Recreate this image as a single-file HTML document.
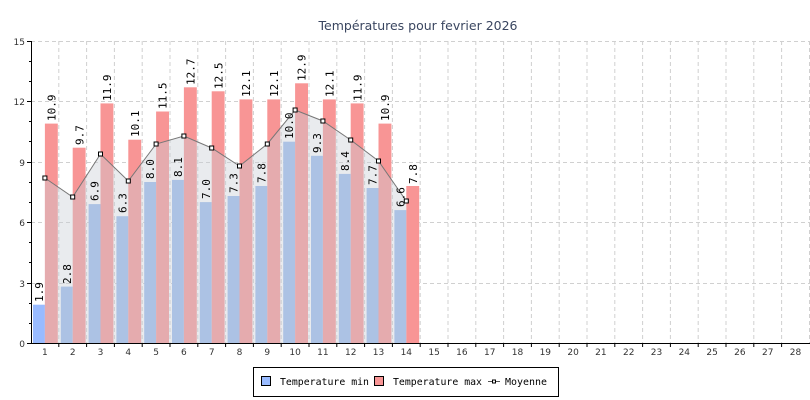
<!DOCTYPE html>
<html><head><meta charset="utf-8"><style>
body{margin:0;background:#fff;}
svg{display:block;font-family:"DejaVu Sans Mono","Liberation Mono",monospace;}
</style></head><body>
<svg width="810" height="400" viewBox="0 0 810 400" xmlns="http://www.w3.org/2000/svg">
<text x="418" y="30" font-family="DejaVu Sans, Liberation Sans, sans-serif" font-size="12.5" fill="#3a4660" text-anchor="middle">Températures pour fevrier 2026</text>
<g stroke="#d0d0d0" stroke-dasharray="4,3" stroke-width="1">
<line x1="31" y1="41.5" x2="810" y2="41.5"/>
<line x1="31" y1="101.5" x2="810" y2="101.5"/>
<line x1="31" y1="162.5" x2="810" y2="162.5"/>
<line x1="31" y1="222.5" x2="810" y2="222.5"/>
<line x1="31" y1="283.5" x2="810" y2="283.5"/>
<line x1="58.8" y1="41" x2="58.8" y2="343"/><line x1="86.6" y1="41" x2="86.6" y2="343"/><line x1="114.4" y1="41" x2="114.4" y2="343"/><line x1="142.2" y1="41" x2="142.2" y2="343"/><line x1="170" y1="41" x2="170" y2="343"/><line x1="197.8" y1="41" x2="197.8" y2="343"/><line x1="225.6" y1="41" x2="225.6" y2="343"/><line x1="253.4" y1="41" x2="253.4" y2="343"/><line x1="281.2" y1="41" x2="281.2" y2="343"/><line x1="309" y1="41" x2="309" y2="343"/><line x1="336.8" y1="41" x2="336.8" y2="343"/><line x1="364.6" y1="41" x2="364.6" y2="343"/><line x1="392.4" y1="41" x2="392.4" y2="343"/><line x1="420.2" y1="41" x2="420.2" y2="343"/><line x1="448" y1="41" x2="448" y2="343"/><line x1="475.8" y1="41" x2="475.8" y2="343"/><line x1="503.6" y1="41" x2="503.6" y2="343"/><line x1="531.4" y1="41" x2="531.4" y2="343"/><line x1="559.2" y1="41" x2="559.2" y2="343"/><line x1="587" y1="41" x2="587" y2="343"/><line x1="614.8" y1="41" x2="614.8" y2="343"/><line x1="642.6" y1="41" x2="642.6" y2="343"/><line x1="670.4" y1="41" x2="670.4" y2="343"/><line x1="698.2" y1="41" x2="698.2" y2="343"/><line x1="726" y1="41" x2="726" y2="343"/><line x1="753.8" y1="41" x2="753.8" y2="343"/><line x1="781.6" y1="41" x2="781.6" y2="343"/><line x1="809.5" y1="41" x2="809.5" y2="343"/>
</g>
<g fill="#99bbee">
<rect x="33" y="304.7" width="11.9" height="38.3" fill="#99bbff"/>
<rect x="60.8" y="286.6" width="11.9" height="56.4"/>
<rect x="88.6" y="204.1" width="11.9" height="138.9"/>
<rect x="116.4" y="216.2" width="11.9" height="126.8"/>
<rect x="144.2" y="182" width="11.9" height="161"/>
<rect x="172" y="179.9" width="11.9" height="163.1"/>
<rect x="199.8" y="202.1" width="11.9" height="140.9"/>
<rect x="227.6" y="196" width="11.9" height="147"/>
<rect x="255.4" y="186" width="11.9" height="157"/>
<rect x="283.2" y="141.7" width="11.9" height="201.3"/>
<rect x="311" y="155.8" width="11.9" height="187.2"/>
<rect x="338.8" y="173.9" width="11.9" height="169.1"/>
<rect x="366.6" y="188" width="11.9" height="155"/>
<rect x="394.4" y="210.1" width="11.9" height="132.9"/>
</g>
<g fill="#f89595">
<rect x="44.9" y="123.6" width="12.9" height="219.4"/>
<rect x="72.7" y="147.7" width="12.9" height="195.3"/>
<rect x="100.5" y="103.4" width="12.9" height="239.6"/>
<rect x="128.3" y="139.7" width="12.9" height="203.3"/>
<rect x="156.1" y="111.5" width="12.9" height="231.5"/>
<rect x="183.9" y="87.3" width="12.9" height="255.7"/>
<rect x="211.7" y="91.3" width="12.9" height="251.7"/>
<rect x="239.5" y="99.4" width="12.9" height="243.6"/>
<rect x="267.3" y="99.4" width="12.9" height="243.6"/>
<rect x="295.1" y="83.3" width="12.9" height="259.7"/>
<rect x="322.9" y="99.4" width="12.9" height="243.6"/>
<rect x="350.7" y="103.4" width="12.9" height="239.6"/>
<rect x="378.5" y="123.6" width="12.9" height="219.4"/>
<rect x="406.3" y="186" width="12.9" height="157"/>
</g>
<polygon fill="rgba(200,205,212,0.4)" points="44.9,343 44.9,178 72.7,197 100.5,154 128.3,181 156.1,144 183.9,136 211.7,148 239.5,166 267.3,144 295.1,110 322.9,121 350.7,140 378.5,161 406.3,201 406.3,343"/>
<polyline fill="none" stroke="#777" stroke-width="1" points="44.9,178 72.7,197 100.5,154 128.3,181 156.1,144 183.9,136 211.7,148 239.5,166 267.3,144 295.1,110 322.9,121 350.7,140 378.5,161 406.3,201"/>
<g fill="#fff" stroke="#000" stroke-width="1">
<rect x="42.9" y="176" width="4" height="4"/><rect x="70.7" y="195" width="4" height="4"/><rect x="98.5" y="152" width="4" height="4"/><rect x="126.3" y="179" width="4" height="4"/><rect x="154.1" y="142" width="4" height="4"/><rect x="181.9" y="134" width="4" height="4"/><rect x="209.7" y="146" width="4" height="4"/><rect x="237.5" y="164" width="4" height="4"/><rect x="265.3" y="142" width="4" height="4"/><rect x="293.1" y="108" width="4" height="4"/><rect x="320.9" y="119" width="4" height="4"/><rect x="348.7" y="138" width="4" height="4"/><rect x="376.5" y="159" width="4" height="4"/><rect x="404.3" y="199" width="4" height="4"/>
</g>
<g font-size="11" fill="#000">
<text transform="translate(43,302) rotate(-90)">1.9</text>
<text transform="translate(70.8,284) rotate(-90)">2.8</text>
<text transform="translate(98.6,201) rotate(-90)">6.9</text>
<text transform="translate(126.4,213) rotate(-90)">6.3</text>
<text transform="translate(154.2,179) rotate(-90)">8.0</text>
<text transform="translate(182,177) rotate(-90)">8.1</text>
<text transform="translate(209.8,199) rotate(-90)">7.0</text>
<text transform="translate(237.6,193) rotate(-90)">7.3</text>
<text transform="translate(265.4,183) rotate(-90)">7.8</text>
<text transform="translate(293.2,139) rotate(-90)">10.0</text>
<text transform="translate(321,153) rotate(-90)">9.3</text>
<text transform="translate(348.8,171) rotate(-90)">8.4</text>
<text transform="translate(376.6,185) rotate(-90)">7.7</text>
<text transform="translate(404.4,207) rotate(-90)">6.6</text>
<text transform="translate(55.5,121) rotate(-90)">10.9</text>
<text transform="translate(83.3,145) rotate(-90)">9.7</text>
<text transform="translate(111.1,101) rotate(-90)">11.9</text>
<text transform="translate(138.9,137) rotate(-90)">10.1</text>
<text transform="translate(166.7,109) rotate(-90)">11.5</text>
<text transform="translate(194.5,85) rotate(-90)">12.7</text>
<text transform="translate(222.3,89) rotate(-90)">12.5</text>
<text transform="translate(250.1,97) rotate(-90)">12.1</text>
<text transform="translate(277.9,97) rotate(-90)">12.1</text>
<text transform="translate(305.7,81) rotate(-90)">12.9</text>
<text transform="translate(333.5,97) rotate(-90)">12.1</text>
<text transform="translate(361.3,101) rotate(-90)">11.9</text>
<text transform="translate(389.1,121) rotate(-90)">10.9</text>
<text transform="translate(416.9,184) rotate(-90)">7.8</text>
</g>
<g stroke="#000" stroke-width="1">
<line x1="31.5" y1="41" x2="31.5" y2="343.5"/>
<line x1="31" y1="343.5" x2="810" y2="343.5"/>
<line x1="27" y1="41.5" x2="31" y2="41.5"/><line x1="27" y1="101.5" x2="31" y2="101.5"/><line x1="27" y1="162.5" x2="31" y2="162.5"/><line x1="27" y1="222.5" x2="31" y2="222.5"/><line x1="27" y1="283.5" x2="31" y2="283.5"/><line x1="27" y1="343.5" x2="31" y2="343.5"/>
<line x1="29" y1="61.5" x2="31" y2="61.5"/><line x1="29" y1="81.5" x2="31" y2="81.5"/><line x1="29" y1="121.5" x2="31" y2="121.5"/><line x1="29" y1="141.5" x2="31" y2="141.5"/><line x1="29" y1="182.5" x2="31" y2="182.5"/><line x1="29" y1="202.5" x2="31" y2="202.5"/><line x1="29" y1="242.5" x2="31" y2="242.5"/><line x1="29" y1="262.5" x2="31" y2="262.5"/><line x1="29" y1="303.5" x2="31" y2="303.5"/><line x1="29" y1="323.5" x2="31" y2="323.5"/>
</g>
<g stroke="#000" stroke-width="1">
<line x1="58.8" y1="343" x2="58.8" y2="347"/><line x1="86.6" y1="343" x2="86.6" y2="347"/><line x1="114.4" y1="343" x2="114.4" y2="347"/><line x1="142.2" y1="343" x2="142.2" y2="347"/><line x1="170" y1="343" x2="170" y2="347"/><line x1="197.8" y1="343" x2="197.8" y2="347"/><line x1="225.6" y1="343" x2="225.6" y2="347"/><line x1="253.4" y1="343" x2="253.4" y2="347"/><line x1="281.2" y1="343" x2="281.2" y2="347"/><line x1="309" y1="343" x2="309" y2="347"/><line x1="336.8" y1="343" x2="336.8" y2="347"/><line x1="364.6" y1="343" x2="364.6" y2="347"/><line x1="392.4" y1="343" x2="392.4" y2="347"/><line x1="420.2" y1="343" x2="420.2" y2="347"/><line x1="448" y1="343" x2="448" y2="347"/><line x1="475.8" y1="343" x2="475.8" y2="347"/><line x1="503.6" y1="343" x2="503.6" y2="347"/><line x1="531.4" y1="343" x2="531.4" y2="347"/><line x1="559.2" y1="343" x2="559.2" y2="347"/><line x1="587" y1="343" x2="587" y2="347"/><line x1="614.8" y1="343" x2="614.8" y2="347"/><line x1="642.6" y1="343" x2="642.6" y2="347"/><line x1="670.4" y1="343" x2="670.4" y2="347"/><line x1="698.2" y1="343" x2="698.2" y2="347"/><line x1="726" y1="343" x2="726" y2="347"/><line x1="753.8" y1="343" x2="753.8" y2="347"/><line x1="781.6" y1="343" x2="781.6" y2="347"/>
</g>
<g font-size="9" fill="#333" font-family="DejaVu Sans, Liberation Sans, sans-serif" text-anchor="end">
<text x="25" y="45">15</text><text x="25" y="105">12</text><text x="25" y="166">9</text><text x="25" y="226">6</text><text x="25" y="287">3</text><text x="25" y="347">0</text>
</g>
<g font-size="9" fill="#333" font-family="DejaVu Sans, Liberation Sans, sans-serif" text-anchor="middle">
<text x="44.9" y="355">1</text><text x="72.7" y="355">2</text><text x="100.5" y="355">3</text><text x="128.3" y="355">4</text><text x="156.1" y="355">5</text><text x="183.9" y="355">6</text><text x="211.7" y="355">7</text><text x="239.5" y="355">8</text><text x="267.3" y="355">9</text><text x="295.1" y="355">10</text><text x="322.9" y="355">11</text><text x="350.7" y="355">12</text><text x="378.5" y="355">13</text><text x="406.3" y="355">14</text><text x="434.1" y="355">15</text><text x="461.9" y="355">16</text><text x="489.7" y="355">17</text><text x="517.5" y="355">18</text><text x="545.3" y="355">19</text><text x="573.1" y="355">20</text><text x="600.9" y="355">21</text><text x="628.7" y="355">22</text><text x="656.5" y="355">23</text><text x="684.3" y="355">24</text><text x="712.1" y="355">25</text><text x="739.9" y="355">26</text><text x="767.7" y="355">27</text><text x="795.5" y="355">28</text>
</g>
<rect x="253.5" y="367.5" width="305" height="29" fill="#fff" stroke="#000"/>
<rect x="261.5" y="376.5" width="9" height="9" fill="#99bbff" stroke="#000"/>
<text x="280" y="385" font-size="10" textLength="89" lengthAdjust="spacingAndGlyphs">Temperature min</text>
<rect x="374.5" y="376.5" width="9" height="9" fill="#f89595" stroke="#000"/>
<text x="393" y="385" font-size="10" textLength="89" lengthAdjust="spacingAndGlyphs">Temperature max</text>
<line x1="488" y1="381.5" x2="500" y2="381.5" stroke="#555"/>
<rect x="492.5" y="380" width="3" height="3" fill="#fff" stroke="#000"/>
<text x="505" y="385" font-size="10" textLength="42" lengthAdjust="spacingAndGlyphs">Moyenne</text>
</svg>
</body></html>
